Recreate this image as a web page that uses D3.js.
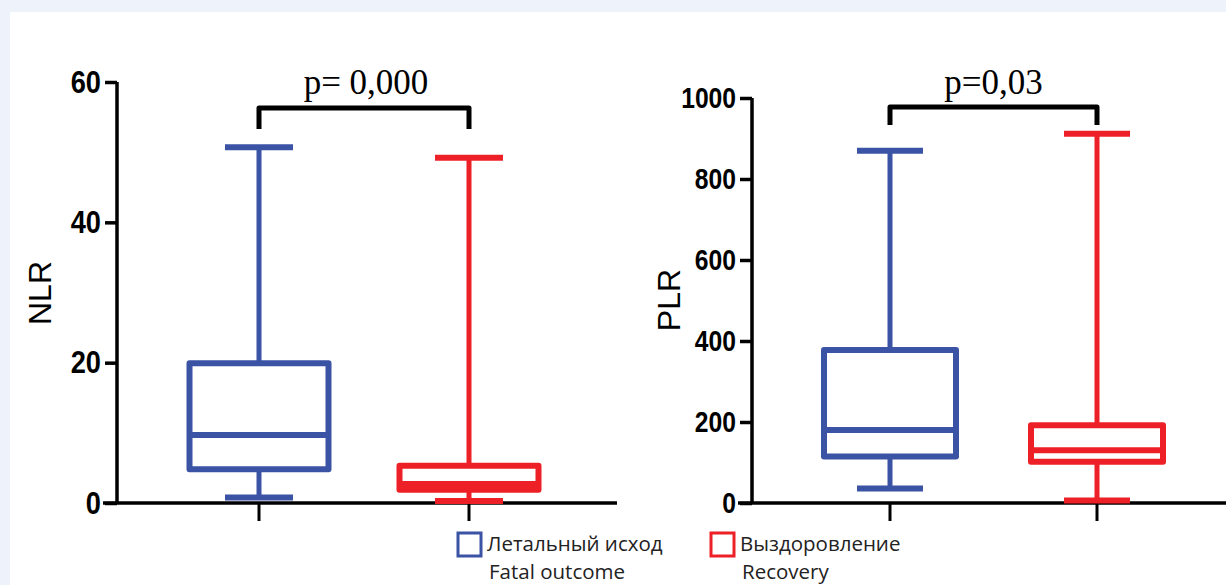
<!DOCTYPE html>
<html>
<head>
<meta charset="utf-8">
<script src="https://cdn.jsdelivr.net/npm/d3@7"></script>
<style>
  body { margin: 0; background: #eef2fa; }
  svg { display: block; }
</style>
</head>
<body>
<div id="chart"></div>
<script>
// data
var groups = ["Летальный исход", "Выздоровление"];
var groupsEn = ["Fatal outcome", "Recovery"];
var colors = ["#3a53a4", "#ee2027"];

// [min, q1, median, q3, max]
var nlr = [[0.8, 4.8, 9.7, 19.9, 50.7], [0.3, 1.9, 2.7, 5.3, 49.2]];
var plr = [[36, 115, 180, 378, 870], [6, 102, 130, 192, 912]];

var nlrTicks = [0, 20, 40, 60];
var plrTicks = [0, 200, 400, 600, 800, 1000];
var pTexts = ["p= 0,000", "p=0,03"];

var W = 1226, H = 585;

var svg = d3.select("#chart").append("svg")
  .attr("width", W).attr("height", H);

svg.append("rect")
  .attr("x", 10).attr("y", 12)
  .attr("width", W - 10).attr("height", H - 12)
  .attr("fill", "#ffffff");

function draw_panel(opt)
{
  var g = svg.append("g");

  var y = d3.scaleLinear().domain(opt.domain).range([503, opt.top]);
  var x = d3.scalePoint().domain(groups).range(opt.xr);

  // y axis
  var yAxis = d3.axisLeft(y).tickValues(opt.ticks).tickFormat(d3.format("d"))
    .tickSize(12).tickPadding(5);
  var ya = g.append("g")
    .attr("transform", "translate(" + opt.ax + ",0)")
    .call(yAxis);
  ya.select(".domain").remove();
  ya.append("line")
    .attr("x1", 0).attr("x2", 0)
    .attr("y1", y(opt.domain[1])).attr("y2", y(0))
    .attr("stroke", "#000").attr("stroke-width", 3.5);
  ya.selectAll(".tick line").attr("stroke", "#000").attr("stroke-width", 3.5);
  // condensed bold labels
  var sx = 0.85;
  ya.selectAll(".tick text")
    .attr("fill", "#000")
    .attr("x", -16 / sx)
    .attr("transform", "scale(" + sx + ",1)")
    .style("font-family", "'Liberation Sans', Arial, sans-serif")
    .style("font-weight", "bold")
    .style("font-size", opt.fs + "px");

  // x axis
  g.append("line")
    .attr("x1", opt.ax - 14).attr("x2", opt.xend)
    .attr("y1", y(0)).attr("y2", y(0))
    .attr("stroke", "#000").attr("stroke-width", 3.5);
  g.selectAll(".xtick").data(groups).enter().append("line")
    .attr("x1", d => x(d)).attr("x2", d => x(d))
    .attr("y1", y(0)).attr("y2", y(0) + 18)
    .attr("stroke", "#000").attr("stroke-width", 3);

  // axis title
  g.append("text")
    .attr("transform", "translate(" + opt.tx + "," + opt.ty + ") rotate(-90)")
    .attr("text-anchor", "middle")
    .style("font-family", "'Liberation Sans', Arial, sans-serif")
    .style("font-size", "32px")
    .text(opt.title);

  // boxes
  opt.data.forEach(function (d, i) {
    var cx = x(groups[i]);
    var c = colors[i];
    var bw = opt.bw, cw = opt.cw;
    var b = g.append("g").attr("stroke", c).attr("fill", "none")
      .attr("stroke-linejoin", "round");

    b.append("line").attr("x1", cx).attr("x2", cx)
      .attr("y1", y(d[4])).attr("y2", y(d[3])).attr("stroke-width", 5);
    b.append("line").attr("x1", cx).attr("x2", cx)
      .attr("y1", y(d[1])).attr("y2", y(d[0])).attr("stroke-width", 5);
    b.append("line").attr("x1", cx - cw / 2).attr("x2", cx + cw / 2)
      .attr("y1", y(d[4])).attr("y2", y(d[4])).attr("stroke-width", 6);
    b.append("line").attr("x1", cx - cw / 2).attr("x2", cx + cw / 2)
      .attr("y1", y(d[0])).attr("y2", y(d[0])).attr("stroke-width", 6);
    b.append("rect")
      .attr("x", cx - bw / 2).attr("width", bw)
      .attr("y", y(d[3])).attr("height", y(d[1]) - y(d[3]))
      .attr("fill", "#fff").attr("stroke-width", 6);
    b.append("line").attr("x1", cx - bw / 2).attr("x2", cx + bw / 2)
      .attr("y1", y(d[2])).attr("y2", y(d[2])).attr("stroke-width", 6);
  });

  // significance bracket
  var x0 = x(groups[0]), x1 = x(groups[1]);
  g.append("path")
    .attr("d", "M" + x0 + "," + opt.bb + "V" + opt.bt + "H" + x1 + "V" + opt.bb)
    .attr("fill", "none").attr("stroke", "#000")
    .attr("stroke-width", 5).attr("stroke-linejoin", "round");
  g.append("text")
    .attr("x", (x0 + x1) / 2 + opt.pdx).attr("y", opt.py)
    .attr("text-anchor", "middle")
    .style("font-family", "'Liberation Serif', 'Times New Roman', serif")
    .style("font-size", "35px")
    .text(opt.p);
}

draw_panel({
  data: nlr, domain: [0, 60], ticks: nlrTicks, top: 82, fs: 32,
  ax: 117, xr: [259, 469], xend: 617, bw: 139, cw: 68,
  title: "NLR", tx: 51, ty: 293,
  bt: 108, bb: 129, p: pTexts[0], py: 94, pdx: 2
});

draw_panel({
  data: plr, domain: [0, 1000], ticks: plrTicks, top: 98, fs: 29,
  ax: 752, xr: [890, 1097], xend: W, bw: 132, cw: 66,
  title: "PLR", tx: 680, ty: 300,
  bt: 107, bb: 125, p: pTexts[1], py: 94, pdx: 0
});

// legend
var legX = [458, 711];
var leg = svg.selectAll(".leg").data(groups).enter().append("g")
  .attr("transform", (d, i) => "translate(" + legX[i] + ",0)");
leg.append("rect")
  .attr("x", 0).attr("y", 533).attr("width", 23).attr("height", 23)
  .attr("fill", "none").attr("stroke", (d, i) => colors[i]).attr("stroke-width", 3);
leg.append("text")
  .attr("x", 29).attr("y", 551)
  .style("font-family", "'Open Sans', 'Noto Sans', sans-serif")
  .style("font-size", "20.5px").attr("fill", "#222")
  .text(d => d);
leg.append("text")
  .attr("x", 31).attr("y", 579)
  .style("font-family", "'Open Sans', 'Noto Sans', sans-serif")
  .style("font-size", "20.5px").attr("fill", "#222")
  .text((d, i) => groupsEn[i]);
</script>
</body>
</html>
